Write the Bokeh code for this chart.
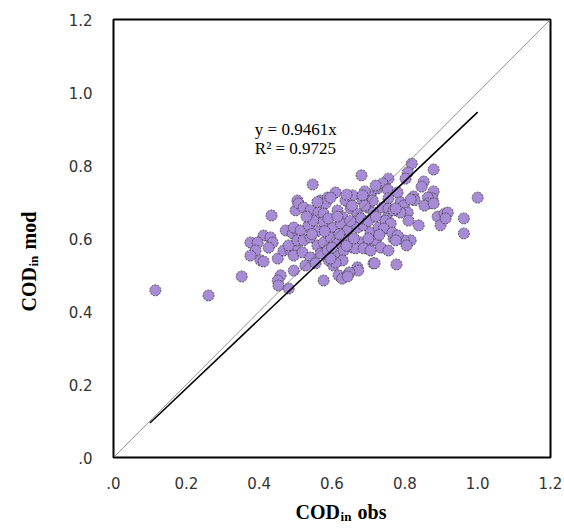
import math
from bokeh.plotting import figure
from bokeh.layouts import row, column
from bokeh.models import FixedTicker, Label, ColumnDataSource
from bokeh.embed import file_html
from bokeh.resources import INLINE

# ---- data -------------------------------------------------------------
cod_obs = [0.115, 0.261, 0.352, 0.434, 0.547, 0.505, 0.500, 0.508, 0.473, 0.492,
           0.508, 0.412, 0.431, 0.437, 0.426, 0.376, 0.396, 0.390, 0.376, 0.404,
           0.412, 0.451, 0.467, 0.486, 0.500, 0.481, 0.459, 0.451, 0.453, 0.495,
           0.481, 0.522, 0.569, 0.588, 0.610, 0.582, 0.657, 0.637, 0.684, 0.706,
           0.725, 0.541, 0.563, 0.577, 0.615, 0.629, 0.651, 0.670, 0.698, 0.714,
           0.739, 0.495, 0.514, 0.536, 0.549, 0.577, 0.602, 0.624, 0.643, 0.670,
           0.687, 0.706, 0.728, 0.753, 0.505, 0.522, 0.541, 0.560, 0.577, 0.596,
           0.615, 0.637, 0.657, 0.679, 0.698, 0.720, 0.734, 0.495, 0.519, 0.541,
           0.569, 0.588, 0.610, 0.632, 0.665, 0.687, 0.527, 0.555, 0.591, 0.604,
           0.629, 0.670, 0.714, 0.755, 0.577, 0.618, 0.646, 0.819, 0.879, 0.681,
           0.808, 0.802, 0.755, 0.852, 0.846, 0.739, 0.720, 0.753, 0.690, 0.780,
           0.879, 0.876, 0.824, 0.827, 0.863, 0.865, 0.854, 0.879, 1.000, 0.596,
           0.684, 0.712, 0.755, 0.788, 0.797, 0.808, 0.788, 0.810, 0.755, 0.769,
           0.750, 0.838, 0.890, 0.909, 0.918, 0.898, 0.962, 0.962, 0.816, 0.797,
           0.805, 0.769, 0.777, 0.717, 0.672, 0.648, 0.628, 0.643, 0.610, 0.596,
           0.706, 0.816, 0.775, 0.912, 0.747, 0.761, 0.742, 0.766, 0.780, 0.775,
           0.560, 0.590, 0.620, 0.650, 0.680, 0.700, 0.720, 0.545, 0.600, 0.640,
           0.660, 0.700, 0.730, 0.580, 0.615, 0.655, 0.690, 0.530, 0.560, 0.640]

cod_mod = [0.458, 0.444, 0.496, 0.663, 0.748, 0.704, 0.677, 0.696, 0.622, 0.614,
           0.616, 0.608, 0.603, 0.589, 0.575, 0.589, 0.589, 0.567, 0.553, 0.540,
           0.537, 0.545, 0.567, 0.567, 0.573, 0.581, 0.499, 0.485, 0.471, 0.512,
           0.463, 0.685, 0.704, 0.712, 0.726, 0.696, 0.718, 0.704, 0.704, 0.718,
           0.737, 0.677, 0.671, 0.668, 0.677, 0.658, 0.682, 0.668, 0.685, 0.671,
           0.685, 0.630, 0.622, 0.636, 0.649, 0.644, 0.630, 0.641, 0.622, 0.630,
           0.636, 0.616, 0.630, 0.627, 0.595, 0.595, 0.603, 0.581, 0.589, 0.603,
           0.586, 0.595, 0.575, 0.589, 0.581, 0.595, 0.575, 0.553, 0.562, 0.548,
           0.559, 0.567, 0.553, 0.567, 0.573, 0.573, 0.526, 0.532, 0.540, 0.526,
           0.540, 0.521, 0.532, 0.567, 0.485, 0.499, 0.504, 0.805, 0.789, 0.773,
           0.781, 0.764, 0.764, 0.756, 0.742, 0.751, 0.745, 0.734, 0.729, 0.726,
           0.729, 0.710, 0.715, 0.705, 0.712, 0.696, 0.690, 0.696, 0.712, 0.712,
           0.718, 0.704, 0.710, 0.699, 0.690, 0.671, 0.671, 0.649, 0.682, 0.677,
           0.655, 0.636, 0.660, 0.668, 0.671, 0.636, 0.655, 0.614, 0.595, 0.595,
           0.581, 0.600, 0.529, 0.532, 0.512, 0.507, 0.490, 0.496, 0.534, 0.545,
           0.567, 0.707, 0.682, 0.655, 0.649, 0.641, 0.627, 0.616, 0.608, 0.595,
           0.620, 0.655, 0.612, 0.648, 0.655, 0.648, 0.660, 0.612, 0.575, 0.580,
           0.600, 0.600, 0.610, 0.620, 0.660, 0.690, 0.690, 0.660, 0.700, 0.720]

trend_slope = 0.9461
r_squared = 0.9725
trend_x = [0.1, 1.0]
identity_x = [0.0, 1.2]

tick_values = [0.0, 0.2, 0.4, 0.6, 0.8, 1.0, 1.2]
tick_labels = [".0", "0.2", "0.4", "0.6", "0.8", "1.0", "1.2"]

x_title = ["COD", "in", "obs"]
y_title = ["COD", "in", "mod"]

# ---- layout geometry (pixels) ----------------------------------------
LEFT_W = 50
MAIN_W = 564 - LEFT_W
MAIN_H = 495
BOT_H = 529 - MAIN_H
FR_L, FR_R, FR_T = 63, 14, 19
FR_W = MAIN_W - FR_L - FR_R
FR_H = 438
FR_B = MAIN_H - FR_T - FR_H

# ---- main figure -----------------------------------------------------
p = figure(width=MAIN_W, height=MAIN_H, x_range=(0, 1.2), y_range=(0, 1.2),
           output_backend="svg", toolbar_location=None,
           min_border_left=FR_L, min_border_right=FR_R,
           min_border_top=FR_T, min_border_bottom=FR_B)
p.background_fill_color = "white"
p.border_fill_color = "white"
p.outline_line_color = "black"
p.outline_line_width = 2
p.grid.visible = False

overrides = {v: t for v, t in zip(tick_values, tick_labels)}
for ax in (p.xaxis[0], p.yaxis[0]):
    ax.ticker = FixedTicker(ticks=tick_values)
    ax.major_label_overrides = overrides
    ax.axis_line_color = None
    ax.major_tick_line_color = None
    ax.minor_tick_line_color = None
    ax.major_label_text_font = "DejaVu Sans"
    ax.major_label_text_font_size = "15px"
    ax.major_label_text_color = "#333333"
p.xaxis[0].major_label_standoff = 13
p.yaxis[0].major_label_standoff = 15

src = ColumnDataSource(dict(x=cod_obs, y=cod_mod))
p.scatter("x", "y", source=src, size=11, fill_color="#A88BD6",
          line_color="#3a3a3a", line_width=0.8, line_dash="2 1")

p.line(identity_x, identity_x, line_color="#666666", line_width=0.7)
p.line(trend_x, [trend_slope * v for v in trend_x], line_color="black",
       line_width=1.6)

eq = dict(text_font="Liberation Serif", text_font_size="17px",
          text_color="black", text_baseline="alphabetic")
p.add_layout(Label(x=0.388, y=0.899, text=f"y = {trend_slope}x", **eq))
p.add_layout(Label(x=0.388, y=0.847, text=f"R² = {r_squared}", **eq))

tf = dict(text_font="Liberation Serif", text_font_style="bold",
          text_color="black", text_baseline="alphabetic")

# ---- bottom strip: x title -------------------------------------------
px_per_unit_x = FR_W / 1.2
xb = figure(width=MAIN_W, height=BOT_H,
            x_range=(-FR_L / px_per_unit_x, (MAIN_W - FR_L) / px_per_unit_x),
            y_range=(0, BOT_H), x_axis_type=None, y_axis_type=None,
            output_backend="svg", toolbar_location=None, min_border=0)
xb.outline_line_color = None
xb.grid.visible = False
xb.background_fill_color = "white"
xb.border_fill_color = "white"
xt_x, xt_y = 0.415, 18
xb.add_layout(Label(x=xt_x, y=xt_y, text=x_title[0], text_font_size="20px", **tf))
xb.add_layout(Label(x=xt_x, y=xt_y, x_offset=45, y_offset=-5, text=x_title[1],
                    text_font_size="13px", **tf))
xb.add_layout(Label(x=xt_x, y=xt_y, x_offset=62, text=x_title[2],
                    text_font_size="20px", **tf))

# ---- left strip: y title ---------------------------------------------
px_per_unit_y = FR_H / 1.2
frame_bottom_canvas = FR_T + FR_H
yl = figure(width=LEFT_W, height=529, x_range=(0, LEFT_W),
            y_range=((frame_bottom_canvas - 529) / px_per_unit_y,
                     frame_bottom_canvas / px_per_unit_y),
            x_axis_type=None, y_axis_type=None,
            output_backend="svg", toolbar_location=None, min_border=0)
yl.outline_line_color = None
yl.grid.visible = False
yl.background_fill_color = "white"
yl.border_fill_color = "white"
ya = math.pi / 2
yt_x, yt_y = 28, 0.40
yl.add_layout(Label(x=yt_x, y=yt_y, angle=ya, text=y_title[0],
                    text_font_size="20px", **tf))
yl.add_layout(Label(x=yt_x, y=yt_y, angle=ya, x_offset=5, y_offset=45,
                    text=y_title[1], text_font_size="13px", **tf))
yl.add_layout(Label(x=yt_x, y=yt_y, angle=ya, y_offset=62, text=y_title[2],
                    text_font_size="20px", **tf))

layout = row(yl, column(p, xb))
open("out.html", "w").write(file_html(layout, INLINE))
